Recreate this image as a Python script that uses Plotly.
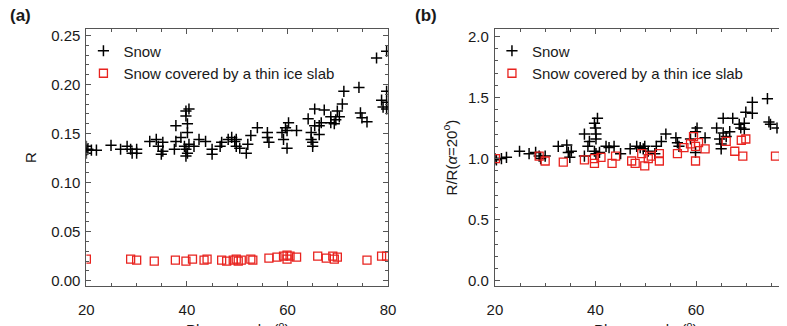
import plotly.graph_objects as go

# ---------- Panel (a): reflectance R ----------
a_snow_x = [20, 20, 20, 20.3, 21.0, 22.0, 24.9, 26.8, 28.1, 28.8, 29.1, 30, 30,
            32.6, 33.9, 34.3, 35.2, 34.9, 35.2, 37.5, 37.8, 37.8, 38.8,
            39.8, 40.4, 39.8, 40.1, 40.1, 39.5, 39.8, 40.1, 39.8, 40.4,
            41.4, 42.4, 43.7, 45, 45, 46.6, 46.9, 48.2, 48.9, 49.5, 49.8, 49.8,
            50.5, 51.8, 52.1, 52.7, 54.0, 56, 56, 56.3,
            58.9, 59.2, 59.9, 60.2, 59.6, 59.9, 61.8,
            64.1, 64.7, 64.7, 65, 65, 65.4, 65.4, 66.3, 66.3, 67.3, 66.7,
            68.6, 68.6, 69.3, 69.9, 70.3, 69.6, 70.9, 71.2,
            74.2, 74.5, 74.8, 75.8, 77.7, 79.7, 79.7, 78.7, 79.0, 79.7, 79.7]
a_snow_y = [0.137, 0.133, 0.130, 0.134, 0.133, 0.133, 0.138, 0.134, 0.137, 0.134, 0.130, 0.134, 0.130,
            0.142, 0.144, 0.137, 0.141, 0.129, 0.132, 0.134, 0.158, 0.142, 0.146,
            0.173, 0.175, 0.168, 0.160, 0.151, 0.137, 0.134, 0.130, 0.127, 0.139,
            0.137, 0.144, 0.142, 0.134, 0.129, 0.137, 0.141, 0.144, 0.146, 0.142, 0.137, 0.144,
            0.135, 0.130, 0.139, 0.148, 0.156, 0.151, 0.146, 0.141,
            0.151, 0.144, 0.153, 0.161, 0.156, 0.135, 0.153,
            0.165, 0.151, 0.144, 0.141, 0.137, 0.158, 0.175, 0.158, 0.149, 0.174, 0.161,
            0.167, 0.161, 0.160, 0.173, 0.167, 0.164, 0.180, 0.193,
            0.197, 0.171, 0.166, 0.162, 0.227, 0.234, 0.193, 0.184, 0.177, 0.182, 0.175]

a_ice_x = [20, 28.8, 30, 33.5, 37.7, 39.8, 41.1, 43.4, 44, 46.9, 47.9, 49.2, 49.8, 50.2,
           50.8, 52.7, 53.1, 56.3, 57.9, 59.2, 59.9, 59.9, 60.5, 61.8, 66, 67.7, 69, 69.3,
           69.9, 75.8, 78.7, 79.7]
a_ice_y = [0.022, 0.022, 0.021, 0.020, 0.021, 0.020, 0.022, 0.021, 0.022, 0.021, 0.020, 0.021, 0.022, 0.020,
           0.021, 0.022, 0.021, 0.023, 0.024, 0.025, 0.026, 0.022, 0.025, 0.024, 0.025, 0.023, 0.025, 0.022,
           0.024, 0.021, 0.025, 0.025]

# ---------- Panel (b): normalised R/R(alpha=20) ----------
b_snow_x = [20, 20.3, 21.3, 22.3, 24.9, 26.8, 28.1, 28.8, 29.1, 30,
            32.6, 34.3, 34.6, 34.9, 35.2, 37.8, 37.8, 38.5, 38.8,
            39.8, 40.4, 40.0, 40.1, 40.1, 39.8, 40.1, 40.8,
            42.1, 42.7, 43.7, 45, 46.9, 48.2, 48.9, 49.5, 49.8, 50.5, 51.8, 52.1, 53.1, 54.0,
            56, 56.3, 56.6, 58.9, 59.9, 60.2, 59.9, 61.8,
            64.1, 65.4, 64.7, 65, 65, 65.4, 66, 67.3, 66.7,
            68.6, 68.9, 69.6, 69.9, 69.6, 71.2, 71.2, 74.2, 74.5, 74.8, 76.1]
b_snow_y = [1.00, 0.99, 1.00, 1.01, 1.06, 1.04, 1.05, 1.02, 1.00, 1.02,
            1.10, 1.11, 1.05, 1.01, 1.06, 1.02, 1.20, 1.10, 1.14,
            1.29, 1.33, 1.25, 1.20, 1.16, 1.06, 1.04, 1.05,
            1.10, 1.09, 1.10, 1.04, 1.08, 1.10, 1.09, 1.08, 1.10, 1.06, 1.04, 1.10, 1.14, 1.20,
            1.17, 1.13, 1.10, 1.16, 1.22, 1.25, 1.05, 1.17,
            1.25, 1.33, 1.16, 1.12, 1.08, 1.21, 1.18, 1.33, 1.22,
            1.28, 1.25, 1.29, 1.38, 1.24, 1.46, 1.37, 1.49, 1.30, 1.28, 1.25]

b_ice_x = [20.1, 28.8, 30, 33.6, 37.8, 39.8, 39.8, 41.1, 43.3, 44, 47.2, 47.9, 49.2, 49.8, 50.5,
           51.1, 52.7, 52.7, 56.3, 57.6, 58.9, 59.5, 59.9, 59.9, 60.5, 61.8, 66, 67.7, 69, 69.9,
           69.3, 75.8]
b_ice_y = [1.00, 1.02, 0.98, 0.97, 0.99, 0.96, 1.00, 1.01, 0.96, 1.02, 0.98, 0.96, 1.04, 0.94, 1.00,
           1.02, 0.98, 1.04, 1.04, 1.09, 1.12, 1.18, 1.10, 0.98, 1.13, 1.08, 1.14, 1.06, 1.15, 1.16,
           1.02, 1.02]

x_ticks = [20, 40, 60, 80]
a_y_ticks = [0.00, 0.05, 0.10, 0.15, 0.20, 0.25]
b_y_ticks = [0.0, 0.5, 1.0, 1.5, 2.0]

W, H = 787, 326
FONT = "Liberation Sans, Arial, Helvetica, sans-serif"
AXC = "#555555"
TXT = "#1a1a1a"

fig = go.Figure()

snow_marker = dict(symbol="cross-thin", size=8, color="black", line=dict(color="black", width=1.5))
ice_marker = dict(symbol="square-open", size=8, color="#e8231f", line=dict(color="#e8231f", width=1.3))

fig.add_trace(go.Scatter(x=a_snow_x, y=a_snow_y, mode="markers", marker=snow_marker,
                         name="Snow", xaxis="x", yaxis="y", legend="legend"))
fig.add_trace(go.Scatter(x=a_ice_x, y=a_ice_y, mode="markers", marker=ice_marker,
                         name="Snow covered by a thin ice slab", xaxis="x", yaxis="y", legend="legend"))
fig.add_trace(go.Scatter(x=b_snow_x, y=b_snow_y, mode="markers", marker=snow_marker,
                         name="Snow", xaxis="x2", yaxis="y2", legend="legend2"))
fig.add_trace(go.Scatter(x=b_ice_x, y=b_ice_y, mode="markers", marker=ice_marker,
                         name="Snow covered by a thin ice slab", xaxis="x2", yaxis="y2", legend="legend2"))

def px(x):
    return x / W

def py(y):
    return 1 - y / H

ydom = [py(288), py(27)]

common_axis = dict(showline=True, linecolor=AXC, linewidth=1, ticks="inside", ticklen=5,
                   tickcolor=AXC, showgrid=False, zeroline=False,
                   tickfont=dict(family=FONT, size=15, color=TXT))

legend_style = dict(xanchor="left", yanchor="top", bgcolor="rgba(0,0,0,0)",
                    font=dict(family=FONT, size=15, color=TXT), tracegroupgap=0, itemwidth=30)

fig.update_layout(
    width=W, height=H, margin=dict(l=0, r=0, t=0, b=0),
    paper_bgcolor="white", plot_bgcolor="white",
    font=dict(family=FONT, size=15, color=TXT),
    showlegend=True,
    xaxis=dict(domain=[px(80), px(388)], range=[20, 80], tickvals=x_ticks, mirror="ticks",
               minor=dict(dtick=5, ticks="inside", ticklen=3, tickcolor=AXC),
               ticklabelstandoff=10, anchor="y", **common_axis),
    yaxis=dict(domain=ydom, range=[-0.005, 0.257], tickvals=a_y_ticks, tickformat=".2f",
               mirror="ticks", minor=dict(dtick=0.01, ticks="inside", ticklen=3, tickcolor=AXC),
               ticklabelstandoff=2, anchor="x", **common_axis),
    xaxis2=dict(domain=[px(497), 1.0], range=[20, 76.5], tickvals=x_ticks, mirror="ticks",
                minor=dict(dtick=5, ticks="inside", ticklen=3, tickcolor=AXC),
                ticklabelstandoff=10, anchor="y2", **common_axis),
    yaxis2=dict(domain=ydom, range=[-0.04, 2.064], tickvals=b_y_ticks, tickformat=".1f",
                mirror=False, minor=dict(dtick=0.1, ticks="inside", ticklen=3, tickcolor=AXC),
                ticklabelstandoff=2, anchor="x2", **common_axis),
    legend=dict(x=px(77), y=py(33), **legend_style),
    legend2=dict(x=px(494), y=py(33), **legend_style),
)

annotations = [
    dict(text="<b>(a)</b>", x=px(0), y=py(2), xanchor="left", yanchor="top", font=dict(size=17)),
    dict(text="<b>(b)</b>", x=px(413), y=py(2), xanchor="left", yanchor="top", font=dict(size=17)),
    dict(text="R", x=px(23), y=py(158), textangle=-90, xanchor="center", yanchor="middle", font=dict(size=15)),
    dict(text="R/R(<i>α</i>=20<sup>o</sup>)", x=px(451), y=py(158), textangle=-90,
         xanchor="center", yanchor="middle", font=dict(size=15)),
    dict(text="Phase angle (<sup>o</sup>)", x=px(234), y=py(320), xanchor="center", yanchor="top", font=dict(size=15)),
    dict(text="Phase angle (<sup>o</sup>)", x=px(651), y=py(320), xanchor="center", yanchor="top", font=dict(size=15)),
]
for a in annotations:
    a.update(xref="paper", yref="paper", showarrow=False)
fig.update_layout(annotations=annotations)

fig.write_html("out.html")
